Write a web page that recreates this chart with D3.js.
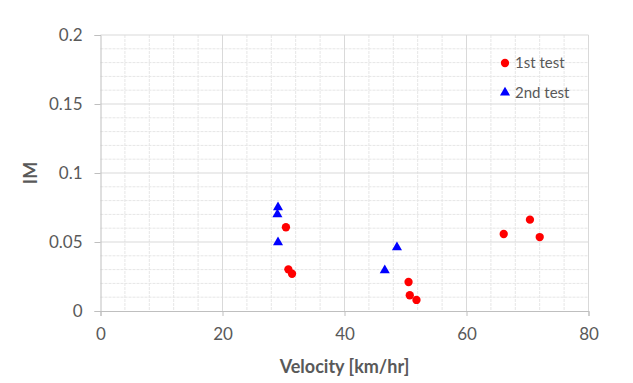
<!DOCTYPE html>
<html>
<head>
<meta charset="utf-8">
<script src="https://cdn.jsdelivr.net/npm/d3@7"></script>
<style>
  body { margin: 0; background: #fff; }
  .chart text { font-family: Lato, 'Open Sans', sans-serif; fill: #595959; }
</style>
</head>
<body>
<div class="chart"></div>
<script>
// 1st test (red circles)
const test1Velocity = [30.4, 30.8, 31.4, 50.5, 50.7, 51.8, 66.1, 70.4, 72.0]
const test1IM = [0.0607, 0.0302, 0.027, 0.021, 0.0114, 0.008, 0.0558, 0.0662, 0.0536]
// 2nd test (blue triangles)
const test2Velocity = [29.1, 29.0, 29.1, 48.6, 46.6]
const test2IM = [0.0751, 0.070, 0.0498, 0.0461, 0.0295]

const xTicks = [0, 20, 40, 60, 80]
const yTicks = [0, 0.05, 0.1, 0.15, 0.2]
const seriesNames = ['1st test', '2nd test']

const width = 633
const height = 383
const plotLeft = 100.5, plotRight = 588.5, plotTop = 35, plotBottom = 311

const svg = d3.select('.chart').append('svg')
  .attr('width', width).attr('height', height)

const x = d3.scaleLinear().domain([0, 80]).range([plotLeft, plotRight])
const y = d3.scaleLinear().domain([0, 0.2]).range([plotBottom, plotTop])

// minor grid
const grid = svg.append('g')
grid.selectAll('.vminor').data(d3.range(4, 80, 4).filter(v => v % 20 !== 0))
  .enter().append('line')
  .attr('x1', d => x(d)).attr('x2', d => x(d))
  .attr('y1', plotTop).attr('y2', plotBottom)
  .attr('stroke', '#e6e6e6').attr('stroke-dasharray', '3,1')
grid.selectAll('.hminor').data(d3.range(1, 20).filter(v => v % 5 !== 0).map(v => v / 100))
  .enter().append('line')
  .attr('x1', plotLeft).attr('x2', plotRight)
  .attr('y1', d => y(d)).attr('y2', d => y(d))
  .attr('stroke', '#e6e6e6').attr('stroke-dasharray', '3,1')

// major grid
grid.selectAll('.vmajor').data(xTicks.slice(1))
  .enter().append('line')
  .attr('x1', d => x(d)).attr('x2', d => x(d))
  .attr('y1', plotTop).attr('y2', plotBottom)
  .attr('stroke', '#d9d9d9')
grid.selectAll('.hmajor').data(yTicks.slice(1))
  .enter().append('line')
  .attr('x1', plotLeft).attr('x2', plotRight)
  .attr('y1', d => y(d)).attr('y2', d => y(d))
  .attr('stroke', '#d9d9d9')

// axes
const xAxis = svg.append('g').attr('transform', `translate(0, ${plotBottom})`)
  .call(d3.axisBottom(x).tickValues(xTicks).tickSize(5).tickPadding(12).tickFormat(d3.format('d')))
const yAxis = svg.append('g').attr('transform', `translate(${plotLeft}, 0)`)
  .call(d3.axisLeft(y).tickValues(yTicks).tickSize(6).tickPadding(12).tickFormat(d => d === 0 ? '0' : String(d)))
;[xAxis, yAxis].forEach(a => {
  a.select('.domain').attr('stroke', '#bfbfbf')
  a.selectAll('.tick line').attr('stroke', '#bfbfbf')
  a.selectAll('.tick text').attr('font-size', 17).attr('fill', '#595959')
})

// axis titles
svg.append('text')
  .attr('x', (plotLeft + plotRight) / 2).attr('y', 373)
  .attr('text-anchor', 'middle').attr('font-size', 18).attr('font-weight', 'bold')
  .text('Velocity [km/hr]')
svg.append('text')
  .attr('transform', `translate(37, ${(plotTop + plotBottom) / 2}) rotate(-90)`)
  .attr('text-anchor', 'middle').attr('font-size', 18).attr('font-weight', 'bold')
  .text('IM')

// points
const circle = d3.symbol().type(d3.symbolCircle).size(54)
const triangle = d3.symbol().type(d3.symbolTriangle).size(44)

svg.append('g').selectAll('path')
  .data(d3.zip(test1Velocity, test1IM))
  .enter().append('path')
  .attr('d', circle)
  .attr('transform', d => `translate(${x(d[0])}, ${y(d[1])})`)
  .attr('fill', '#ff0000')

svg.append('g').selectAll('path')
  .data(d3.zip(test2Velocity, test2IM))
  .enter().append('path')
  .attr('d', triangle)
  .attr('transform', d => `translate(${x(d[0])}, ${y(d[1])})`)
  .attr('fill', '#0000ff')

// legend
const legend = svg.append('g').attr('transform', 'translate(505, 63)')
const items = legend.selectAll('g').data(seriesNames).enter().append('g')
  .attr('transform', (d, i) => `translate(0, ${i * 29.5})`)
items.append('path')
  .attr('d', (d, i) => (i === 0 ? circle : triangle)())
  .attr('fill', (d, i) => i === 0 ? '#ff0000' : '#0000ff')
items.append('text')
  .attr('x', 10).attr('y', 5)
  .attr('font-size', 15)
  .text(d => d)
</script>
</body>
</html>
